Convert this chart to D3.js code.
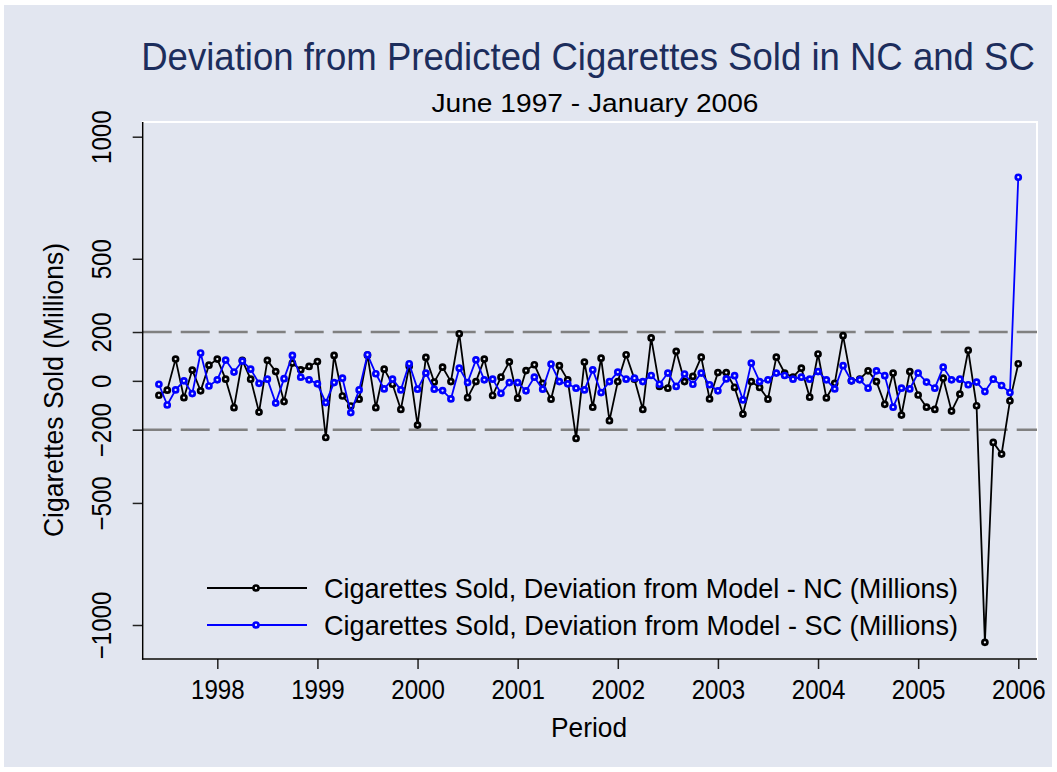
<!DOCTYPE html>
<html>
<head>
<meta charset="utf-8">
<script src="https://cdn.jsdelivr.net/npm/d3@7"></script>
<style>
  html, body { margin: 0; padding: 0; background: #ffffff; }
  svg { display: block; font-family: "Liberation Sans", Arial, sans-serif; }
</style>
</head>
<body>
<svg id="chart" width="1057" height="772"></svg>
<script>
// ---- Data (millions of cigarettes, monthly, June 1997 - January 2006) ----
const startYear = 1997;
const startMonth = 6; // June
const ncDeviation = [
  -59, -38, 89, -69, 44, -41, 64,
  89, 7, -110, 84, 7, -128, 84, 38, -85, 73, 45, 59,
  79, -232, 104, -62, -103, -75, 105, -110, 48, -14, -117, 60,
  -181, 96, -5, 56, -3, 193, -69, -3, 89, -60, 15, 78,
  -71, 42, 66, -10, -75, 62, 4, -236, 77, -108, 93, -163,
  -3, 107, 7, -117, 176, -23, -30, 121, -3, 18, 97, -74,
  34, 34, -27, -136, -3, -27, -75, 97, 32, 15, 52, -67,
  110, -70, -10, 185, 0, 7, 41, -3, -96, 32, -140, 38,
  -58, -108, -117, 11, -124, -54, 125, -102, -1071, -252, -300, -82,
  70
];
const scDeviation = [
  -14, -99, -37, 0, -52, 114, -21,
  4, 85, 36, 81, 48, -10, 7, -91, 9, 104, 15, 4,
  -12, -89, -7, 11, -130, -37, 107, 29, -33, 7, -37, 70,
  -34, 32, -34, -40, -74, 52, -7, 86, 4, 7, -51, -7,
  -7, -41, 15, -34, 69, -3, -12, -30, -37, 45, -48, -3,
  36, 7, 11, -3, 22, -14, 32, -23, 28, -14, 32, -16,
  -41, 8, 21, -78, 73, -3, 4, 32, 22, 7, 15, 7,
  38, 4, -33, 62, 0, 4, -30, 41, 21, -108, -30, -33,
  32, -5, -30, 56, 4, 7, -16, -5, -44, 7, -19, -48,
  834
];
const xTickYears = [1998, 1999, 2000, 2001, 2002, 2003, 2004, 2005, 2006];
const yTickValues = [-1000, -500, -200, 0, 200, 500, 1000];
const refLines = [-200, 200];
const seriesNames = [
  "Cigarettes Sold, Deviation from Model - NC (Millions)",
  "Cigarettes Sold, Deviation from Model - SC (Millions)"
];
const seriesColors = ["#000000", "#0000ff"];
const titleText = "Deviation from Predicted Cigarettes Sold in NC and SC";
const subtitleText = "June 1997 - January 2006";
const yTitleText = "Cigarettes Sold (Millions)";
const xTitleText = "Period";

// ---- Layout ----
const bg = "#e2e6f0";
const svg = d3.select("#chart");
const plot = { left: 142.7, right: 1037, top: 122, bottom: 659 };

svg.append("rect").attr("x", 0).attr("y", 0).attr("width", 1057).attr("height", 772).attr("fill", "#ffffff");
svg.append("rect").attr("x", 4).attr("y", 5).attr("width", 1048).attr("height", 762).attr("fill", bg);

const x = d3.scaleLinear().domain([1997.2549, 2006.187]).range([plot.left, plot.right]);
const y = d3.scaleLinear().domain([-1000, 1000]).range([625, 136.7]);

const toTime = i => startYear + (startMonth - 1) / 12 + i / 12;
const series = [ncDeviation, scDeviation].map((vals, k) => ({
  name: seriesNames[k], color: seriesColors[k],
  pts: vals.map((v, i) => ({ t: toTime(i), v }))
}));

// plot region
svg.append("rect")
  .attr("x", plot.left).attr("y", plot.top)
  .attr("width", plot.right - plot.left).attr("height", plot.bottom - plot.top)
  .attr("fill", bg).attr("stroke", "#ffffff").attr("stroke-width", 2);

// reference dashed lines
svg.selectAll("line.ref").data(refLines).enter().append("line")
  .attr("class", "ref")
  .attr("x1", plot.left).attr("x2", plot.right)
  .attr("y1", d => y(d)).attr("y2", d => y(d))
  .attr("stroke", "#808080").attr("stroke-width", 2.6)
  .attr("stroke-dasharray", "29,9");

const condense = (sel, ratio) => sel.each(function () {
  const len = this.getComputedTextLength();
  d3.select(this).attr("textLength", len * ratio).attr("lengthAdjust", "spacingAndGlyphs");
});

const xAxis = svg.append("g").attr("transform", `translate(0,${plot.bottom})`)
  .call(d3.axisBottom(x).tickValues(xTickYears).tickSize(10).tickPadding(10).tickFormat(d3.format("d")));
xAxis.select(".domain").remove();
xAxis.selectAll(".tick line").attr("stroke", "#222").attr("stroke-width", 1.5);
xAxis.selectAll(".tick text").attr("font-size", 28).attr("fill", "#000")
  .attr("font-family", "Liberation Sans, Arial, sans-serif").call(condense, 0.86);

const yAxis = svg.append("g").attr("transform", `translate(${plot.left},0)`)
  .call(d3.axisLeft(y).tickValues(yTickValues).tickSize(10).tickFormat(d3.format("d")));
yAxis.select(".domain").remove();
yAxis.selectAll(".tick line").attr("stroke", "#222").attr("stroke-width", 1.5);
yAxis.selectAll(".tick text")
  .attr("font-size", 28).attr("fill", "#000")
  .attr("font-family", "Liberation Sans, Arial, sans-serif")
  .attr("text-anchor", "middle")
  .attr("x", 0).attr("y", -32).attr("dy", 0)
  .attr("transform", "rotate(-90)")
  .call(condense, 0.86);

// axis lines
svg.append("line").attr("x1", plot.left).attr("x2", plot.left).attr("y1", plot.top).attr("y2", plot.bottom + 0.75)
  .attr("stroke", "#000").attr("stroke-width", 1.5);
svg.append("line").attr("x1", plot.left - 0.75).attr("x2", plot.right).attr("y1", plot.bottom).attr("y2", plot.bottom)
  .attr("stroke", "#000").attr("stroke-width", 1.5);

// series
const line = d3.line().x(d => x(d.t)).y(d => y(d.v));
const markerFill = "#eef0f6";
series.forEach(s => {
  const g = svg.append("g");
  g.append("path").datum(s.pts).attr("d", line)
    .attr("fill", "none").attr("stroke", s.color).attr("stroke-width", 1.8).attr("stroke-linejoin", "round");
  g.selectAll("circle").data(s.pts).enter().append("circle")
    .attr("cx", d => x(d.t)).attr("cy", d => y(d.v)).attr("r", 2.5)
    .attr("fill", markerFill).attr("stroke", s.color).attr("stroke-width", 2.7);
});

// legend
const legendRows = [588, 625];
series.forEach((s, k) => {
  const ly = legendRows[k];
  svg.append("line").attr("x1", 207).attr("x2", 307).attr("y1", ly).attr("y2", ly)
    .attr("stroke", s.color).attr("stroke-width", 1.8);
  svg.append("circle").attr("cx", 256).attr("cy", ly).attr("r", 2.5)
    .attr("fill", markerFill).attr("stroke", s.color).attr("stroke-width", 2.7);
  svg.append("text").attr("x", 324).attr("y", ly + 10)
    .attr("font-size", 28).attr("fill", "#000")
    .attr("textLength", 634).attr("lengthAdjust", "spacingAndGlyphs")
    .text(s.name);
});

// titles (title condensed with a horizontal scale so its box stays inside the page)
const title = svg.append("text").attr("x", 0).attr("y", 0).attr("text-anchor", "middle")
  .attr("font-size", 38).attr("fill", "#1c2d5c")
  .text(titleText);
const titleNatural = title.node().getComputedTextLength();
title.attr("transform", `translate(588,70) scale(${894 / titleNatural},1)`);

svg.append("text").attr("x", 595).attr("y", 112).attr("text-anchor", "middle")
  .attr("font-size", 26).attr("fill", "#000")
  .attr("textLength", 327).attr("lengthAdjust", "spacingAndGlyphs")
  .text(subtitleText);
svg.append("text").attr("transform", "translate(63,390) rotate(-90)").attr("text-anchor", "middle")
  .attr("font-size", 28).attr("fill", "#000")
  .attr("textLength", 294).attr("lengthAdjust", "spacingAndGlyphs")
  .text(yTitleText);
svg.append("text").attr("x", 589).attr("y", 737).attr("text-anchor", "middle")
  .attr("font-size", 27).attr("fill", "#000")
  .attr("textLength", 76).attr("lengthAdjust", "spacingAndGlyphs")
  .text(xTitleText);
</script>
</body>
</html>
